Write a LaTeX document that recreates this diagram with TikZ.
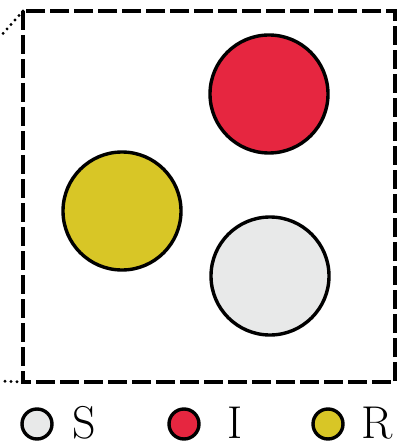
\documentclass[tikz,border=0pt]{standalone}
\usepackage{tikz}
\definecolor{cS}{HTML}{E8E9E9}
\definecolor{cI}{HTML}{E62640}
\definecolor{cR}{HTML}{D8C626}
\tikzset{
  agent/.style={circle,draw=black,line width=3.4pt,inner sep=0pt,minimum size=#1},
  legtext/.style={font=\fontsize{46}{50}\selectfont,inner sep=0pt,anchor=base west},
  boxline/.style={line width=3.2pt,dash pattern=on 19pt off 5pt},
  dotline/.style={line width=3.2pt,dash pattern=on 0pt off 6pt,line cap=round}
}
\begin{document}
\begin{tikzpicture}[x=1pt,y=-1pt]
\useasboundingbox (0,0) rectangle (398,446);
\coordinate (tl) at (23,11);
\coordinate (br) at (395,382);
\coordinate (bl) at (23,382);
\coordinate (d1) at (0,37);
\coordinate (d2) at (0,381);
\draw[boxline] (tl) rectangle (br);
\draw[dotline] (tl) -- (d1);
\draw[dotline] (bl) -- (d2);
\node[agent=118pt,fill=cI] (i1) at (269,94) {};
\node[agent=118pt,fill=cR] (r1) at (122,211) {};
\node[agent=118pt,fill=cS] (s1) at (270,276) {};
\node[agent=30pt,fill=cS] (ls) at (37,424) {};
\node[agent=30pt,fill=cI] (li) at (184,424) {};
\node[agent=30pt,fill=cR] (lr) at (328,424) {};
\node[legtext] (ts) at (72,438) {S};
\node[legtext] (ti) at (227,438) {I};
\node[legtext] (tr) at (361,438) {R};
\end{tikzpicture}
\end{document}
